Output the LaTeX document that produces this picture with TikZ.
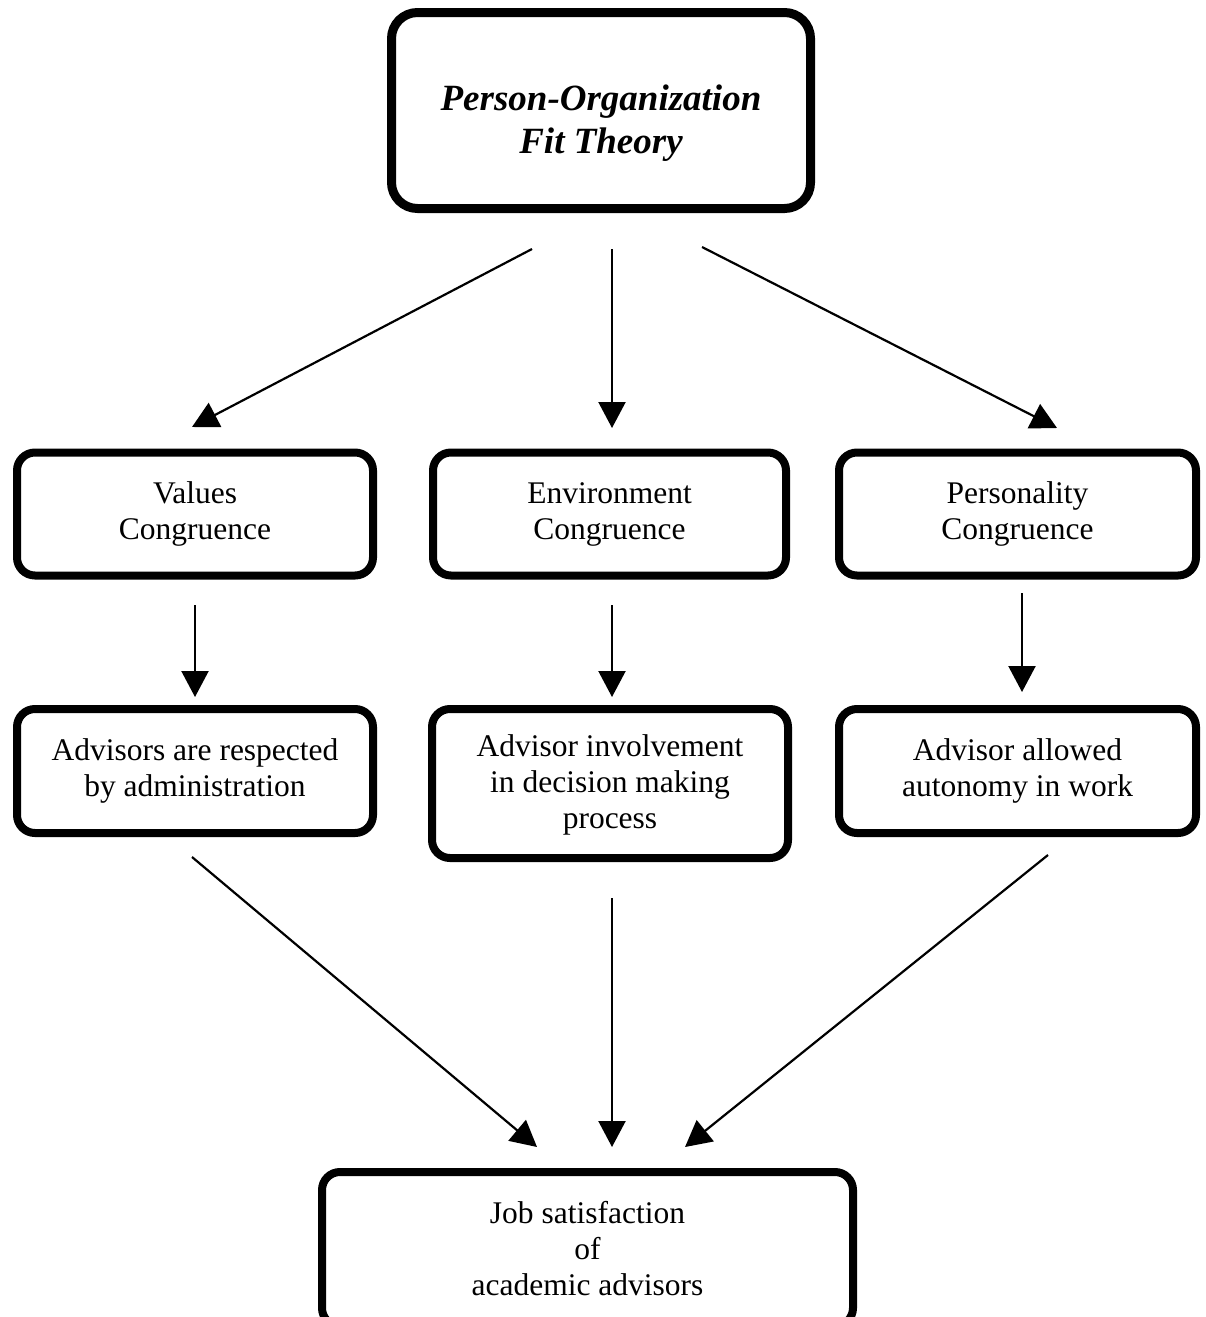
\documentclass[tikz,border=0pt]{standalone}
\usepackage{fontspec}
\setmainfont{Liberation Serif}
\usetikzlibrary{arrows.meta}
\begin{document}
\begin{tikzpicture}[x=1pt,y=-1pt,
  box/.style={draw, line width=8pt, rounded corners=18pt, inner sep=0pt, outer sep=0pt,
    align=center, font=\fontsize{31.5}{36}\selectfont},
  arr/.style={line width=2.2pt, -{Triangle[length=26pt,width=27pt]}}]
\clip (0,0) rectangle (1206,1317);
\node[box, line width=9pt, rounded corners=26pt, minimum width=419pt, minimum height=196pt,
  font=\fontsize{37}{43}\selectfont\bfseries\itshape, text height=93pt, text depth=8pt]
  (title) at (601,110.5) {Person-Organization\\Fit Theory};
\node[box, minimum width=356pt, minimum height=123pt] (values) at (195,514) {Values\\Congruence};
\node[box, minimum width=353pt, minimum height=123pt] (env) at (609.5,514) {Environment\\Congruence};
\node[box, minimum width=357pt, minimum height=123pt] (pers) at (1017.5,514) {Personality\\Congruence};
\node[box, minimum width=356pt, minimum height=124pt] (resp) at (195,771) {Advisors are respected\\by administration};
\node[box, minimum width=356pt, minimum height=149pt, text depth=3pt] (invol) at (610,783.5) {Advisor involvement\\in decision making\\process};
\node[box, minimum width=357pt, minimum height=124pt] (auto) at (1017.5,771) {Advisor allowed\\autonomy in work};
\node[box, minimum width=531pt, minimum height=154pt] (job) at (587.5,1249) {Job satisfaction\\of\\academic advisors};
\coordinate (a1s) at (532,249);  \coordinate (a1e) at (192,427);
\coordinate (a2s) at (612,249);  \coordinate (a2e) at (612,428);
\coordinate (a3s) at (702,247);  \coordinate (a3e) at (1057,428);
\coordinate (b1s) at (195,605);  \coordinate (b1e) at (195,697);
\coordinate (b2s) at (612,605);  \coordinate (b2e) at (612,697);
\coordinate (b3s) at (1022,593); \coordinate (b3e) at (1022,692);
\coordinate (c1s) at (192,857);  \coordinate (c1e) at (537,1147);
\coordinate (c2s) at (612,898);  \coordinate (c2e) at (612,1147);
\coordinate (c3s) at (1048,855); \coordinate (c3e) at (685,1147);
\draw[arr] (a1s) -- (a1e);
\draw[arr] (a2s) -- (a2e);
\draw[arr] (a3s) -- (a3e);
\draw[arr] (b1s) -- (b1e);
\draw[arr] (b2s) -- (b2e);
\draw[arr] (b3s) -- (b3e);
\draw[arr] (c1s) -- (c1e);
\draw[arr] (c2s) -- (c2e);
\draw[arr] (c3s) -- (c3e);
\end{tikzpicture}
\end{document}
